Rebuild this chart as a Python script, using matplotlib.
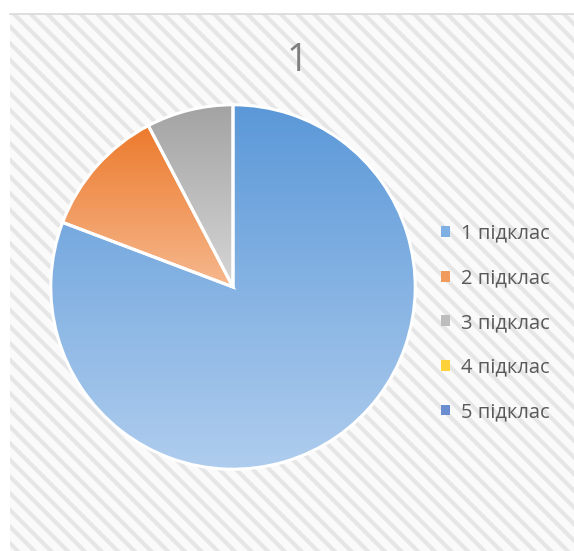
import numpy as np
import matplotlib.pyplot as plt
from matplotlib.patches import Rectangle, Patch
from matplotlib.colors import LinearSegmentedColormap

# data
labels = ['1 підклас', '2 підклас', '3 підклас', '4 підклас', '5 підклас']
values = [21, 3, 2, 0, 0]
title = '1'

# top / bottom colours of each gradient
top_colors = ['#5b98d8', '#ec7a2c', '#a3a3a3', '#f5c000', '#4570c4']
bottom_colors = ['#afcdee', '#f6b88e', '#d6d6d6', '#ffe07a', '#8fa9dc']
mid_colors = ['#7fb0e3', '#f09a5c', '#bdbdbd', '#ffd23a', '#6a8dd0']

plt.rcParams['font.family'] = ['Open Sans', 'DejaVu Sans']
plt.rcParams['hatch.linewidth'] = 3.0

W, H = 574, 551
fig = plt.figure(figsize=(W / 100, H / 100), dpi=100)
fig.patch.set_facecolor('white')

# hatched chart area background
bg = Rectangle((10 / W, 0), 1 - 10 / W, 1 - 14 / H, transform=fig.transFigure,
               facecolor='#fafafa', edgecolor='#e6e6e6', hatch='\\\\',
               linewidth=0, zorder=-10)
fig.patches.append(bg)
fig.add_artist(plt.Line2D([10 / W, 1], [1 - 14 / H, 1 - 14 / H], transform=fig.transFigure,
                          color='#d9d9d9', lw=1.2))

# pie axes: centre (233, 287) px, radius 185 px
cx, cy, r = 233, H - 287, 185
ax = fig.add_axes([(cx - r) / W, (cy - r) / H, 2 * r / W, 2 * r / H])
ax.set_aspect('equal')
ax.axis('off')

nz = [i for i, v in enumerate(values) if v > 0]
wedges, _ = ax.pie([values[i] for i in nz], startangle=90, counterclock=False,
                   radius=0.985, colors=[mid_colors[i] for i in nz],
                   wedgeprops=dict(edgecolor='white', linewidth=2.2))

# gradient fill clipped to each wedge
for w, i in zip(wedges, nz):
    ys = w.get_path().vertices[:, 1]
    y0, y1 = ys.min(), ys.max()
    cmap = LinearSegmentedColormap.from_list('g', [bottom_colors[i], top_colors[i]])
    grad = np.linspace(0, 1, 256).reshape(-1, 1)
    im = ax.imshow(grad, cmap=cmap, origin='lower', extent=[-1, 1, y0, y1],
                   aspect='auto', zorder=1, interpolation='bilinear')
    im.set_clip_path(w)
    w.set_facecolor('none')
    w.set_zorder(2)
ax.set_xlim(-1.0, 1.0)
ax.set_ylim(-1.0, 1.0)

fig.text(297 / W, 1 - 61 / H, title, ha='center', va='center',
         fontsize=27, color='#7f7f7f')

handles = [Patch(facecolor=c, edgecolor='none') for c in mid_colors]
fig.legend(handles, labels, loc='center left', bbox_to_anchor=(441 / W, 1 - 323 / H),
           frameon=False, fontsize=14.5, labelcolor='#595959',
           handlelength=0.45, handleheight=0.45, handletextpad=0.55,
           labelspacing=1.22, borderaxespad=0, borderpad=0)

fig.savefig('out.png', dpi=100)
